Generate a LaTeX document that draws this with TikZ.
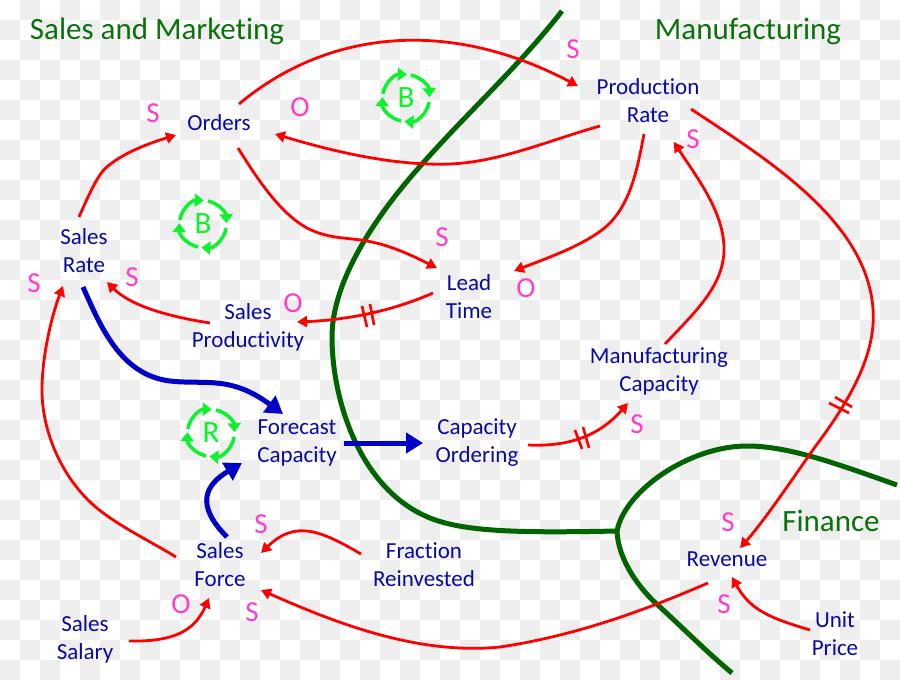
\documentclass[tikz,border=0pt]{standalone}
\usepackage{fontspec}
\setmainfont[Ligatures=CommonOff]{Carlito}
\usetikzlibrary{arrows.meta}
\definecolor{varblue}{HTML}{0A0AA0}
\definecolor{tagpink}{HTML}{FF3DCB}
\definecolor{zonegreen}{HTML}{0B720B}
\definecolor{zoneline}{HTML}{006400}
\definecolor{looplime}{HTML}{0CF22C}
\definecolor{flowblue}{HTML}{0000C8}
\definecolor{linkred}{HTML}{FF0000}
\definecolor{tile}{HTML}{EEEEEE}
\tikzset{
  varname/.style={text=varblue,align=center,inner sep=0pt,font=\fontsize{23}{28}\selectfont},
  tag/.style={text=tagpink,inner sep=0pt,font=\fontsize{29}{30}\selectfont},
  zonename/.style={text=zonegreen,inner sep=0pt,font=\fontsize{31}{34}\selectfont},
  looptext/.style={text=looplime,inner sep=0pt,font=\fontsize{31}{32}\selectfont},
  link/.style={draw=linkred,line width=2.8pt,-{Triangle[length=10pt,width=11pt]}},
  ticks/.style={draw=linkred,line width=2.6pt},
  flow/.style={draw=flowblue,line width=5pt,-{Triangle[length=17pt,width=20pt]}},
  zone/.style={draw=zoneline,line width=5pt},
  looparc/.style={draw=looplime,line width=3.5pt,-{Triangle[length=9pt,width=13pt]}},
}
% Four clockwise arcs around a letter: the causal-loop marker
\newcommand{\loopring}[4]{%
  \node[looptext] (#1) at (#2,#3) {#4};
  \foreach \a/\b in {190/272,282/358,10/94,102/182}{
    \draw[looparc] ([shift={(\a:23.5)}]#1.center) arc[start angle=\a,end angle=\b,radius=23.5];
  }
}
\begin{document}
\begin{tikzpicture}[x=1pt,y=-1pt]
\useasboundingbox (0,0) rectangle (900,680);
% tiled backdrop
\foreach \i in {0,...,44}{
  \foreach \j in {0,...,33}{
    \ifodd\numexpr\i+\j\relax
      \fill[tile] ({\i*20},{\j*20}) rectangle ++(20,20);
    \fi
  }
}
% department boundaries
\coordinate (fork) at (617,531);
\coordinate (topend) at (562,11);
\coordinate (rightend) at (897,485);
\coordinate (lowend) at (732,673);
\draw[zone] (topend) .. controls (520,65) and (470,110) .. (423,163)
  .. controls (385,205) and (332,275) .. (332,337)
  .. controls (332,400) and (360,490) .. (430,518)
  .. controls (465,532) and (520,533) .. (fork);
\draw[zone] (fork) .. controls (625,490) and (690,446) .. (747,446)
  .. controls (790,446) and (840,465) .. (rightend);
\draw[zone] (fork) .. controls (618,560) and (640,590) .. (660,607)
  .. controls (685,630) and (710,655) .. (lowend);

% variables
\node[varname] (orders) at (219,123) {Orders};
\node[varname] (prod) at (648,101) {Production\\Rate};
\node[varname] (rate) at (84,251) {Sales\\Rate};
\node[varname] (lead) at (469,297) {Lead\\Time};
\node[varname] (sprod) at (248,327) {Sales\\Productivity};
\node[varname] (manuf) at (659,371) {Manufacturing\\Capacity};
\node[varname] (forecast) at (297,443) {Forecast\\Capacity};
\node[varname] (capord) at (477,443) {Capacity\\Ordering};
\node[varname] (force) at (220,565) {Sales\\Force};
\node[varname] (frac) at (424,565) {Fraction\\Reinvested};
\node[varname] (salary) at (85,639) {Sales\\Salary};
\node[varname] (revenue) at (727,559) {Revenue};
\node[varname] (price) at (835,634) {Unit\\Price};

% red causal links
\draw[link] ([shift={(-5,-34)}]rate.center) .. controls (93,185) and (100,172) .. (108,166)
  .. controls (125,152) and (150,143) .. ([shift={(-43,12)}]orders.center);
\draw[link] ([shift={(20,-19)}]orders.center) .. controls (325,32) and (445,16) .. ([shift={(-70,-15)}]prod.center);
\draw[link] ([shift={(-48,25)}]prod.center) .. controls (550,140) and (500,162) .. (450,164)
  .. controls (395,166) and (335,152) .. ([shift={(56,11)}]orders.center);
\draw[link] ([shift={(19,25)}]orders.center) .. controls (258,180) and (280,213) .. (307,228)
  .. controls (330,240) and (350,237) .. (372,242)
  .. controls (395,247) and (415,257) .. ([shift={(-32,-29)}]lead.center);
\draw[link] ([shift={(-4,33)}]prod.center) .. controls (638,165) and (632,200) .. (610,223)
  .. controls (590,243) and (550,257) .. ([shift={(45,-26)}]lead.center);
\draw[link] ([shift={(6,-27)}]manuf.center) .. controls (695,312) and (725,285) .. (724,247)
  .. controls (723,210) and (695,175) .. ([shift={(26,41)}]prod.center);
\draw[link] ([shift={(43,8)}]prod.center) .. controls (760,155) and (860,215) .. (872,300)
  .. controls (880,350) and (850,400) .. (815,447)
  .. controls (795,475) and (765,520) .. ([shift={(13,-11)}]revenue.center);
\draw[link] ([shift={(-36,-4)}]lead.center) .. controls (390,312) and (345,320) .. ([shift={(49,-5)}]sprod.center);
\draw[link] ([shift={(-38,-4)}]sprod.center) .. controls (165,316) and (130,305) .. ([shift={(23,31)}]rate.center);
\draw[link] ([shift={(-44,-8)}]force.center) .. controls (145,538) and (110,522) .. (88,500)
  .. controls (60,472) and (42,430) .. (42,390)
  .. controls (42,355) and (52,315) .. ([shift={(-21,35)}]rate.center);
\draw[link] ([shift={(51,2)}]capord.center) .. controls (570,447) and (600,435) .. ([shift={(-31,32)}]manuf.center);
\draw[link] ([shift={(-63,-11)}]frac.center) .. controls (320,530) and (295,520) .. ([shift={(41,-12)}]force.center);
\draw[link] ([shift={(44,2)}]salary.center) .. controls (175,642) and (195,630) .. ([shift={(-11,33)}]force.center);
\draw[link] ([shift={(-19,24)}]revenue.center) .. controls (650,608) and (580,635) .. (500,647)
  .. controls (420,655) and (340,625) .. ([shift={(41,25)}]force.center);
\draw[link] ([shift={(-25,-4)}]price.center) .. controls (770,618) and (750,610) .. ([shift={(5,18)}]revenue.center);

% delay marks
\draw[ticks] (362,306) -- (367,327);
\draw[ticks] (370,304) -- (374,325);
\draw[ticks] (575,430) -- (582,449);
\draw[ticks] (583,427) -- (589,448);
\draw[ticks] (829,403) -- (849,413);
\draw[ticks] (835,397) -- (852,407);

% blue flows
\draw[flow] ([shift={(-1,36)}]rate.center) .. controls (100,325) and (120,375) .. (170,381)
  .. controls (205,385) and (230,375) .. ([shift={(-14,-29)}]forecast.center);
\draw[flow] ([shift={(7,-28)}]force.center) .. controls (195,505) and (205,485) .. ([shift={(-55,20)}]forecast.center);
\draw[flow] ([shift={(47,0)}]forecast.center) -- ([shift={(-54,0)}]capord.center);

% loop markers
\loopring{loopa}{406}{98}{B}
\loopring{loopb}{203}{224}{B}
\loopring{loopc}{211}{433}{R}

% polarity tags
\node[tag] (t1) at (153,113) {S};
\node[tag] (t2) at (300,107) {O};
\node[tag] (t3) at (573,49) {S};
\node[tag] (t4) at (693,139) {S};
\node[tag] (t5) at (442,237) {S};
\node[tag] (t6) at (526,288) {O};
\node[tag] (t7) at (293,303) {O};
\node[tag] (t8) at (132,277) {S};
\node[tag] (t9) at (34,283) {S};
\node[tag] (t10) at (637,424) {S};
\node[tag] (t11) at (261,524) {S};
\node[tag] (t12) at (728,522) {S};
\node[tag] (t13) at (724,604) {S};
\node[tag] (t14) at (181,604) {O};
\node[tag] (t15) at (252,612) {S};

% department names
\node[zonename] (z1) at (157,31) {Sales and Marketing};
\node[zonename] (z2) at (748,31) {Manufacturing};
\node[zonename] (z3) at (831,521) {Finance};
\end{tikzpicture}
\end{document}
